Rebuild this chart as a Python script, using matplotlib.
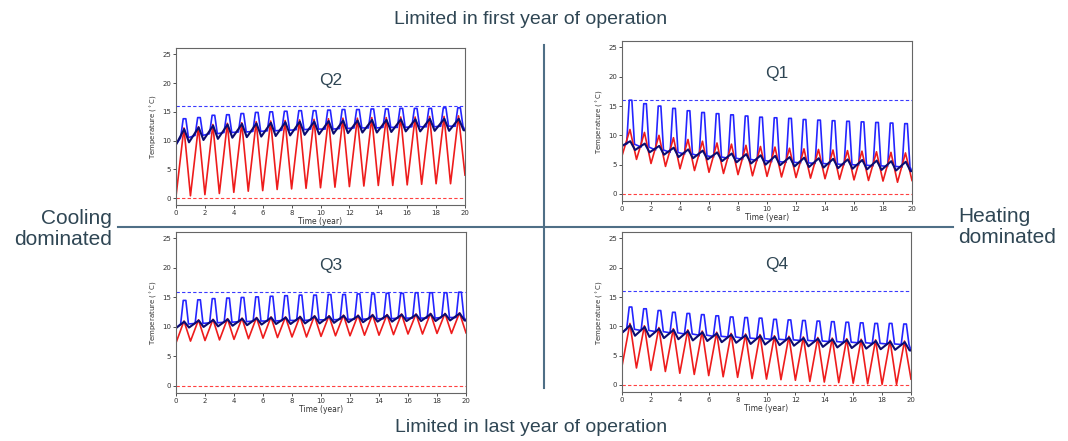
import numpy as np
import matplotlib
matplotlib.use("Agg")
import matplotlib.pyplot as plt
from matplotlib.lines import Line2D

# values, one entry per year of operation
# Q1 (top right, heating dominated, limited in first year)
q1_blue_peak = [16.0, 15.4, 15.0, 14.6, 14.2, 13.9, 13.7, 13.5, 13.3, 13.1, 13.0, 12.9, 12.7, 12.6, 12.5, 12.4, 12.3, 12.2, 12.1, 12.0]
q1_blue_base = [8.5, 8.0, 7.5, 7.1, 6.8, 6.5, 6.3, 6.1, 5.9, 5.7, 5.5, 5.4, 5.3, 5.2, 5.1, 5.0, 4.9, 4.8, 4.7, 4.6]
q1_navy_low = [8.2, 7.5, 7.1, 6.7, 6.3, 6.1, 5.9, 5.6, 5.4, 5.2, 5.0, 4.9, 4.7, 4.6, 4.5, 4.4, 4.3, 4.2, 4.1, 4.0, 3.9]
q1_navy_peak = [9.0, 8.6, 8.2, 7.9, 7.6, 7.4, 7.1, 6.9, 6.8, 6.6, 6.5, 6.3, 6.2, 6.1, 6.0, 5.9, 5.8, 5.7, 5.6, 5.5]
q1_red_peak = [11.0, 10.5, 10.0, 9.6, 9.3, 9.0, 8.7, 8.5, 8.3, 8.1, 8.0, 7.8, 7.7, 7.6, 7.5, 7.4, 7.3, 7.2, 7.1, 7.0]
q1_red_low = [6.5, 5.9, 5.2, 4.7, 4.3, 4.0, 3.7, 3.5, 3.3, 3.1, 3.0, 2.9, 2.8, 2.7, 2.6, 2.5, 2.4, 2.3, 2.2, 2.0, 2.3]

# Q2 (top left, cooling dominated, limited in first year)
q2_blue_peak = [13.8, 14.0, 14.4, 14.5, 14.7, 14.9, 15.0, 15.1, 15.2, 15.2, 15.3, 15.4, 15.4, 15.5, 15.5, 15.6, 15.6, 15.6, 15.7, 15.7]
q2_blue_base = [10.5, 10.9, 11.2, 11.4, 11.5, 11.6, 11.7, 11.8, 11.9, 12.0, 12.0, 12.1, 12.2, 12.2, 12.3, 12.3, 12.4, 12.4, 12.5, 12.5]
q2_navy_low = [9.3, 9.7, 10.1, 10.3, 10.5, 10.6, 10.7, 10.8, 10.9, 11.0, 11.1, 11.2, 11.3, 11.4, 11.4, 11.5, 11.6, 11.6, 11.7, 11.7, 11.8]
q2_navy_peak = [12.0, 12.3, 12.6, 12.8, 12.9, 13.0, 13.1, 13.2, 13.3, 13.3, 13.4, 13.5, 13.5, 13.6, 13.6, 13.7, 13.7, 13.8, 13.8, 13.8]
q2_red_peak = [12.2, 12.4, 12.8, 13.0, 13.1, 13.3, 13.4, 13.5, 13.6, 13.7, 13.8, 13.9, 13.9, 14.0, 14.0, 14.1, 14.1, 14.2, 14.2, 14.3]
q2_red_low = [0.3, 0.4, 0.6, 0.8, 1.0, 1.2, 1.3, 1.5, 1.6, 1.7, 1.8, 1.9, 2.0, 2.1, 2.2, 2.2, 2.3, 2.4, 2.5, 2.5, 4.0]

# Q3 (bottom left, cooling dominated, limited in last year)
q3_blue_peak = [14.5, 14.6, 14.8, 14.9, 15.0, 15.1, 15.2, 15.3, 15.4, 15.4, 15.5, 15.5, 15.6, 15.6, 15.7, 15.7, 15.8, 15.8, 15.8, 15.9]
q3_blue_base = [10.5, 10.6, 10.7, 10.8, 10.9, 11.0, 11.0, 11.1, 11.1, 11.2, 11.2, 11.3, 11.3, 11.4, 11.4, 11.5, 11.5, 11.5, 11.6, 11.6]
q3_navy_low = [9.8, 9.9, 10.0, 10.1, 10.2, 10.3, 10.4, 10.5, 10.5, 10.6, 10.6, 10.7, 10.8, 10.8, 10.9, 10.9, 11.0, 11.0, 11.0, 11.1, 11.1]
q3_navy_peak = [10.9, 11.1, 11.2, 11.3, 11.4, 11.5, 11.6, 11.6, 11.7, 11.8, 11.8, 11.9, 11.9, 12.0, 12.0, 12.1, 12.1, 12.2, 12.2, 12.3]
q3_red_peak = [11.0, 11.2, 11.3, 11.4, 11.5, 11.6, 11.7, 11.7, 11.8, 11.9, 11.9, 12.0, 12.0, 12.1, 12.1, 12.2, 12.2, 12.3, 12.3, 12.4]
q3_red_low = [7.3, 7.6, 7.7, 7.8, 7.9, 8.0, 8.1, 8.2, 8.3, 8.3, 8.4, 8.5, 8.5, 8.6, 8.6, 8.7, 8.8, 8.8, 8.9, 8.9, 9.0]

# Q4 (bottom right, heating dominated, limited in last year)
q4_blue_peak = [13.3, 13.0, 12.7, 12.4, 12.2, 12.0, 11.8, 11.6, 11.5, 11.4, 11.2, 11.1, 11.0, 10.9, 10.8, 10.7, 10.6, 10.5, 10.5, 10.4]
q4_blue_base = [9.5, 9.3, 9.1, 8.9, 8.7, 8.5, 8.3, 8.2, 8.0, 7.9, 7.8, 7.7, 7.6, 7.5, 7.4, 7.3, 7.2, 7.1, 7.0, 6.9]
q4_navy_low = [8.9, 8.4, 8.2, 8.0, 7.8, 7.6, 7.5, 7.3, 7.2, 7.0, 6.9, 6.8, 6.7, 6.6, 6.5, 6.4, 6.3, 6.2, 6.1, 6.0, 5.9]
q4_navy_peak = [10.2, 9.9, 9.6, 9.4, 9.2, 9.0, 8.8, 8.6, 8.5, 8.4, 8.2, 8.1, 8.0, 7.9, 7.8, 7.7, 7.6, 7.5, 7.4, 7.3]
q4_red_peak = [10.5, 10.1, 9.8, 9.6, 9.4, 9.2, 9.0, 8.8, 8.7, 8.6, 8.4, 8.3, 8.2, 8.1, 8.0, 7.9, 7.8, 7.7, 7.6, 7.5]
q4_red_low = [3.2, 2.9, 2.5, 2.3, 2.0, 1.8, 1.6, 1.4, 1.3, 1.1, 1.0, 0.9, 0.8, 0.6, 0.5, 0.4, 0.3, 0.2, 0.1, 0.1, 1.0]

t_max_limit = 16.0
t_min_limit = 0.0

text_col = '#2f4654'
line_col = '#4f6f86'


def red_curve(peak, low):
    t, y = [0.0], [low[0]]
    for k in range(len(peak)):
        t += [k + 0.55, k + 1.0]
        y += [peak[k], low[k + 1]]
    return t, y


def navy_curve(peak, low):
    t, y = [0.0], [low[0]]
    for k in range(len(peak)):
        t += [k + 0.57, k + 0.9]
        y += [peak[k], low[k + 1]]
    t.append(20.0)
    y.append(low[-1])
    return t, y


def blue_curve(peak, base, low):
    t, y = [0.0], [low[0]]
    for k in range(len(peak)):
        t += [k + 0.32, k + 0.5, k + 0.68, k + 0.86]
        y += [base[k], peak[k], peak[k], base[k]]
    t.append(20.0)
    y.append(low[-1])
    return t, y


def panel(ax, name, bp, bb, nl, npk, rp, rl):
    ax.axhline(t_max_limit, color='#3a3aff', ls='--', lw=0.8, dashes=(3, 2))
    ax.axhline(t_min_limit, color='#ff4040', ls='--', lw=0.8, dashes=(3, 2))
    t, y = blue_curve(bp, bb, nl)
    ax.plot(t, y, color='#2424ff', lw=1.2)
    t, y = red_curve(rp, rl)
    ax.plot(t, y, color='#ee1c1c', lw=1.2)
    t, y = navy_curve(npk, nl)
    ax.plot(t, y, color='#0c0c70', lw=1.5)
    ax.set_xlim(0, 20)
    ax.set_ylim(-1.2, 26.1)
    ax.set_xticks(range(0, 21, 2))
    ax.set_yticks(range(0, 26, 5))
    ax.tick_params(labelsize=5, length=2, width=0.6, pad=1.5, colors='#333333')
    for s in ax.spines.values():
        s.set_color('#666666')
        s.set_linewidth(0.8)
    ax.set_xlabel('Time (year)', fontsize=5.5, labelpad=1, color='#333333')
    ax.set_ylabel('Temperature ($^\\circ$C)', fontsize=5, labelpad=2, color='#333333')
    ax.text(10.7, 20.5, name, ha='center', va='center', fontsize=12.5,
            color=text_col, family='Liberation Sans')


W, H = 1068, 441
fig = plt.figure(figsize=(W / 100, H / 100), dpi=100)


def box(l, r, top, bot):
    return [l / W, 1 - bot / H, (r - l) / W, (bot - top) / H]


ax_q2 = fig.add_axes(box(176, 465, 48, 205))
ax_q1 = fig.add_axes(box(622, 912, 41, 201))
ax_q3 = fig.add_axes(box(176, 466, 232, 393))
ax_q4 = fig.add_axes(box(622, 911, 232, 392))

panel(ax_q2, 'Q2', q2_blue_peak, q2_blue_base, q2_navy_low, q2_navy_peak, q2_red_peak, q2_red_low)
panel(ax_q1, 'Q1', q1_blue_peak, q1_blue_base, q1_navy_low, q1_navy_peak, q1_red_peak, q1_red_low)
panel(ax_q3, 'Q3', q3_blue_peak, q3_blue_base, q3_navy_low, q3_navy_peak, q3_red_peak, q3_red_low)
panel(ax_q4, 'Q4', q4_blue_peak, q4_blue_base, q4_navy_low, q4_navy_peak, q4_red_peak, q4_red_low)

# quadrant divider lines
fig.add_artist(Line2D([118 / W, 953 / W], [1 - 227 / H, 1 - 227 / H], color=line_col, lw=1.5))
fig.add_artist(Line2D([543.5 / W, 543.5 / W], [1 - 45 / H, 1 - 388 / H], color=line_col, lw=1.5))

font = dict(family='Liberation Sans', color=text_col)
fig.text(531 / W, 1 - 19 / H, 'Limited in first year of operation', ha='center', va='center', fontsize=14, **font)
fig.text(531 / W, 1 - 428 / H, 'Limited in last year of operation', ha='center', va='center', fontsize=14, **font)
fig.text(112 / W, 1 - 229 / H, 'Cooling\ndominated', ha='right', va='center', fontsize=15,
         multialignment='right', linespacing=1.1, **font)
fig.text(958 / W, 1 - 227 / H, 'Heating\ndominated', ha='left', va='center', fontsize=15,
         multialignment='left', linespacing=1.1, **font)

fig.savefig('out.png', dpi=100)
